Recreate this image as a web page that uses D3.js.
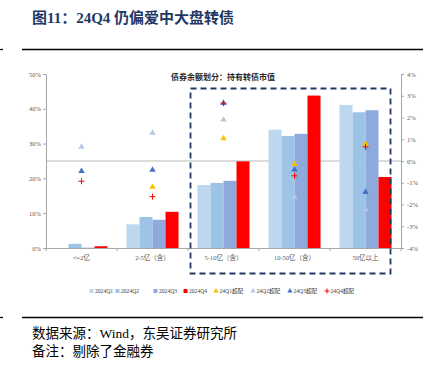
<!DOCTYPE html>
<html><head><meta charset="utf-8">
<script src="https://cdn.jsdelivr.net/npm/d3@7"></script>
<style>body{margin:0;background:#fff;}svg{display:block;}</style>
</head><body>
<script>
const categories = ["<=2亿", "2-5亿（含）", "5-10亿（含）", "10-50亿（含）", "50亿以上"];
const quarters = ["2024Q1", "2024Q2", "2024Q3", "2024Q4"];
const holdQ1 = [0.0, 6.8, 18.1, 34.0, 41.1];
const holdQ2 = [1.2, 8.9, 18.7, 32.2, 39.0];
const holdQ3 = [0.1, 8.1, 19.3, 32.8, 39.6];
const holdQ4 = [0.5, 10.4, 24.9, 43.8, 20.4];
const overNames = ["24Q1超配", "24Q2超配", "24Q3超配", "24Q4超配"];
const overQ1 = [null, -1.19, 1.04, -0.15, 0.78];
const overQ2 = [0.65, 1.29, 1.90, -1.67, -2.22];
const overQ3 = [-0.47, -0.41, 2.66, -0.40, -1.43];
const overQ4 = [-0.93, -1.64, 2.66, -0.68, 0.65];
const leftTicks = [0, 10, 20, 30, 40, 50];
const rightTicks = [-4, -3, -2, -1, 0, 1, 2, 3, 4];
const headerText = "图11：24Q4 仍偏爱中大盘转债";
const chartTitle = "债券余额划分：持有转债市值";
const sourceText = "数据来源：Wind，东吴证券研究所";
const noteText = "备注：剔除了金融券";

const barColors = ["#BDD7EE", "#9DC3E6", "#8EA9DB", "#FF0000"];
const markColors = ["#FFC000", "#B4C7E7", "#4472C4", "#FF0000"];
const holds = [holdQ1, holdQ2, holdQ3, holdQ4];
const overs = [overQ1, overQ2, overQ3, overQ4];

const W = 434, H = 365;
const svg = d3.select("body").append("svg").attr("width", W).attr("height", H);
const serif = "'Liberation Serif','Noto Sans CJK SC',serif";

// header
svg.append("text").attr("x", 32).attr("y", 23).attr("font-family", serif)
  .attr("font-size", 15).attr("font-weight", "bold").attr("fill", "#1F3864").text(headerText);
svg.append("line").attr("x1", 22).attr("x2", 423).attr("y1", 49.5).attr("y2", 49.5).attr("stroke", "#000").attr("stroke-width", 1.3);
svg.append("line").attr("x1", 0).attr("x2", 3).attr("y1", 49.5).attr("y2", 49.5).attr("stroke", "#000").attr("stroke-width", 1.3);

// footer
svg.append("line").attr("x1", 22).attr("x2", 423).attr("y1", 317.5).attr("y2", 317.5).attr("stroke", "#000").attr("stroke-width", 1.3);
svg.append("line").attr("x1", 0).attr("x2", 3).attr("y1", 317.5).attr("y2", 317.5).attr("stroke", "#000").attr("stroke-width", 1.3);
svg.append("text").attr("x", 32).attr("y", 338).attr("font-family", serif).attr("font-size", 13.5).attr("fill", "#000").text(sourceText);
svg.append("text").attr("x", 32).attr("y", 356).attr("font-family", serif).attr("font-size", 13.5).attr("fill", "#000").text(noteText);

// scales
const x0 = d3.scaleBand().domain(categories).range([46, 401]).paddingInner(0).paddingOuter(0);
const x1 = d3.scaleBand().domain(quarters).range([0, x0.bandwidth()]).paddingInner(0).paddingOuter(0.73);
const yL = d3.scaleLinear().domain([0, 50]).range([248, 74]);
const yR = d3.scaleLinear().domain([-4, 4]).range([248, 74]);

// zero line of right axis
svg.append("line").attr("x1", 46).attr("x2", 401).attr("y1", yR(0)).attr("y2", yR(0))
  .attr("stroke", "#D0D0D0").attr("stroke-width", 1.5);

// bars
const g = svg.append("g");
quarters.forEach((q, qi) => {
  g.selectAll(null).data(categories).enter().append("rect")
    .attr("x", c => x0(c) + x1(q))
    .attr("width", x1.bandwidth())
    .attr("y", (c, i) => yL(holds[qi][i]))
    .attr("height", (c, i) => yL(0) - yL(holds[qi][i]))
    .attr("fill", barColors[qi]);
});

// axes
const axisColor = "#A6A6A6";
const tickFont = 6.5;
const axL = svg.append("g").attr("transform", "translate(46,0)")
  .call(d3.axisLeft(yL).tickValues(leftTicks).tickFormat(d => d + "%").tickSize(3).tickPadding(2));
const axR = svg.append("g").attr("transform", "translate(401,0)")
  .call(d3.axisRight(yR).tickValues(rightTicks).tickFormat(d => d + "%").tickSize(3).tickPadding(3));
const axB = svg.append("g").attr("transform", "translate(0,248)")
  .call(d3.axisBottom(x0).tickSize(0).tickPadding(7));
[axL, axR, axB].forEach(a => {
  a.select(".domain").attr("stroke", axisColor);
  a.selectAll(".tick line").attr("stroke", axisColor);
  a.selectAll("text").attr("font-family", serif).attr("font-size", tickFont).attr("fill", "#595959");
});
// category boundary ticks
svg.append("g").selectAll("line").data(d3.range(categories.length + 1)).enter().append("line")
  .attr("x1", i => 46 + i * x0.step()).attr("x2", i => 46 + i * x0.step())
  .attr("y1", 248).attr("y2", 251).attr("stroke", axisColor);

// markers
const tri = d3.symbol().type(d3.symbolTriangle).size(18);
overs.forEach((arr, qi) => {
  const pts = categories.map((c, i) => ({ c, v: arr[i] })).filter(d => d.v !== null);
  if (qi < 3) {
    svg.append("g").selectAll("path").data(pts).enter().append("path")
      .attr("d", tri)
      .attr("transform", d => `translate(${x0(d.c) + x0.bandwidth() / 2},${yR(d.v)})`)
      .attr("fill", markColors[qi]);
  } else {
    const gp = svg.append("g");
    pts.forEach(d => {
      const cx = x0(d.c) + x0.bandwidth() / 2, cy = yR(d.v);
      gp.append("path").attr("d", `M${cx - 3},${cy}H${cx + 3}M${cx},${cy - 3}V${cy + 3}`)
        .attr("stroke", markColors[qi]).attr("stroke-width", 1).attr("fill", "none");
    });
  }
});

// chart title
svg.append("text").attr("x", 223).attr("y", 79.5).attr("text-anchor", "middle")
  .attr("font-family", serif).attr("font-size", 8).attr("font-weight", "bold").attr("fill", "#262626").text(chartTitle);

// dashed box
svg.append("rect").attr("x", 190.5).attr("y", 88.5).attr("width", 200).attr("height", 185)
  .attr("fill", "none").attr("stroke", "#1F3864").attr("stroke-width", 1.8).attr("stroke-dasharray", "6,4");

// legend
const legendX = [91.5, 117.5, 155.5, 185.5, 216, 253, 290, 327];
const legItems = quarters.map((q, i) => ({ name: q, type: "bar", color: barColors[i] }))
  .concat(overNames.map((n, i) => ({ name: n, type: i < 3 ? "tri" : "plus", color: markColors[i] })));
const lg = svg.append("g");
legItems.forEach((d, i) => {
  const lx = legendX[i], ly = 291;
  if (d.type === "bar") {
    lg.append("rect").attr("x", lx - 2).attr("y", ly - 2).attr("width", 4).attr("height", 4).attr("fill", d.color);
  } else if (d.type === "tri") {
    lg.append("path").attr("d", d3.symbol().type(d3.symbolTriangle).size(12)).attr("transform", `translate(${lx},${ly})`).attr("fill", d.color);
  } else {
    lg.append("path").attr("d", `M${lx - 2.5},${ly}H${lx + 2.5}M${lx},${ly - 2.5}V${ly + 2.5}`).attr("stroke", d.color).attr("stroke-width", 1);
  }
  lg.append("text").attr("x", lx + 3.5).attr("y", ly + 2).attr("font-family", serif).attr("font-size", 5.6).attr("fill", "#404040").text(d.name);
});
</script>
</body></html>
